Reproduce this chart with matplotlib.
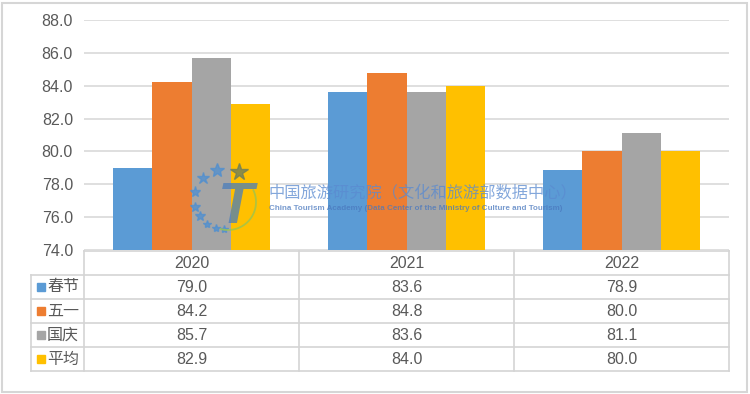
import numpy as np
import matplotlib.pyplot as plt
from matplotlib.patches import Rectangle
from matplotlib.transforms import blended_transform_factory

plt.rcParams['font.family'] = ['Liberation Sans', 'Noto Sans CJK SC', 'DejaVu Sans']

years = ['2020', '2021', '2022']
series = ['春节', '五一', '国庆', '平均']
chunjie = [79.0, 83.6, 78.9]
wuyi = [84.2, 84.8, 80.0]
guoqing = [85.7, 83.6, 81.1]
pingjun = [82.9, 84.0, 80.0]
values = [chunjie, wuyi, guoqing, pingjun]
colors = ['#5B9BD5', '#ED7D31', '#A5A5A5', '#FFC000']

W, H = 750, 394
text_c = '#595959'
line_c = '#D9D9D9'


def fx(p):
    return p / W


def fy(p):
    return 1 - p / H


fig = plt.figure(figsize=(W / 100, H / 100), dpi=100)
# plot area in pixels: x 84..729, y 20..250 (from top)
ax = fig.add_axes([84 / W, (H - 250) / H, 645 / W, 230 / H])

x = np.arange(len(years))
bw = 0.182
for i, (name, vals) in enumerate(zip(series, values)):
    ax.bar(x + (i - 1.5) * bw, vals, width=bw, color=colors[i], zorder=2)

ax.set_xlim(-0.5, len(years) - 0.5)
ax.set_ylim(74, 88)
ax.set_yticks(np.arange(74, 88.1, 2))
ax.set_yticklabels([f'{v:.1f}' for v in np.arange(74, 88.1, 2)])
ax.tick_params(axis='y', length=0, pad=8, labelsize=11.5, labelcolor=text_c)
ax.set_xticks([])
ax.grid(axis='y', color=line_c, lw=1.2, zorder=0)
for s in ax.spines.values():
    s.set_visible(False)

# data table below the plot
tr = blended_transform_factory(ax.transData, ax.transAxes)
px = 1 / 230  # one pixel in axes fraction (vertical)
row_h = 24 * px
top = -1 * px
left = -0.5 - 53 / 215
rows_y = [top - row_h * k for k in range(len(series) + 2)]
tab_lc = '#D4D4D4'
kw = dict(transform=tr, color=tab_lc, lw=1.2, clip_on=False)

ax.plot([-0.5, 2.5], [rows_y[0], rows_y[0]], **kw)
for k in range(1, len(series) + 2):
    ax.plot([left, 2.5], [rows_y[k], rows_y[k]], **kw)
for xv in [-0.5, 0.5, 1.5, 2.5]:
    ax.plot([xv, xv], [rows_y[0], rows_y[-1]], **kw)
ax.plot([left, left], [rows_y[1], rows_y[-1]], **kw)

for j, yr in enumerate(years):
    ax.text(j, (rows_y[0] + rows_y[1]) / 2, yr, transform=tr, ha='center',
            va='center', fontsize=11.5, color=text_c)
for i, (name, vals) in enumerate(zip(series, values)):
    yc = (rows_y[i + 1] + rows_y[i + 2]) / 2
    for j, v in enumerate(vals):
        ax.text(j, yc, f'{v:.1f}', transform=tr, ha='center', va='center',
                fontsize=11.5, color=text_c)
    ax.add_patch(Rectangle((left + 6 / 215, yc - 4 * px), 8 / 215, 8 * px,
                           transform=tr, color=colors[i], clip_on=False))
    ax.text(left + 16 / 215, yc, name, transform=tr, ha='left', va='center',
            fontsize=11.5, color=text_c, family=['Noto Sans CJK SC'])

# watermark (logo + institute name), drawn over the bars
wm_c = '#5A8AD0'
fig.text(fx(268), fy(193), '中国旅游研究院（文化和旅游部数据中心）', ha='left',
         va='center', fontsize=11.7, color=wm_c, alpha=0.75,
         family=['Noto Sans CJK SC'], zorder=5)
fig.text(fx(269), fy(209),
         'China Tourism Academy (Data Center of the Ministry of Culture and Tourism)',
         ha='left', va='center', fontsize=5.75, color='#4A78BE', alpha=0.75,
         fontweight='bold', zorder=5)
star_x = [195, 203, 217, 195, 200, 207, 216, 224]
star_y = [192, 178, 170, 207, 216, 224, 228, 229]
star_s = [8, 9, 10, 7, 7, 6, 6, 6]
for sx, sy, ss in zip(star_x, star_y, star_s):
    fig.add_artist(plt.Line2D([fx(sx)], [fy(sy)], ls='none', marker='*', ms=ss,
                              color='#4F8FD0', alpha=0.75, zorder=5))
fig.add_artist(plt.Line2D([fx(239)], [fy(172)], ls='none', marker='*', ms=13,
                          color='#6F7F5A', alpha=0.8, zorder=5))
t = np.radians(np.linspace(25, -105, 40))
fig.add_artist(plt.Line2D(fx(228 + 28 * np.cos(t)), fy(202 - 28 * np.sin(t)),
                          color='#9CC54E', lw=1.3, alpha=0.8, zorder=5))
fig.text(fx(236), fy(208), 'T', fontsize=42, fontweight='bold', style='italic',
         color='#4A7EBB', alpha=0.75, ha='center', va='center', zorder=5)

# outer frame
fig.add_artist(Rectangle((2 / W, 2 / H), 745 / W, 389 / H, transform=fig.transFigure,
                         fill=False, edgecolor='#D6D6D6', lw=1.5))

fig.savefig('out.png', dpi=100)
